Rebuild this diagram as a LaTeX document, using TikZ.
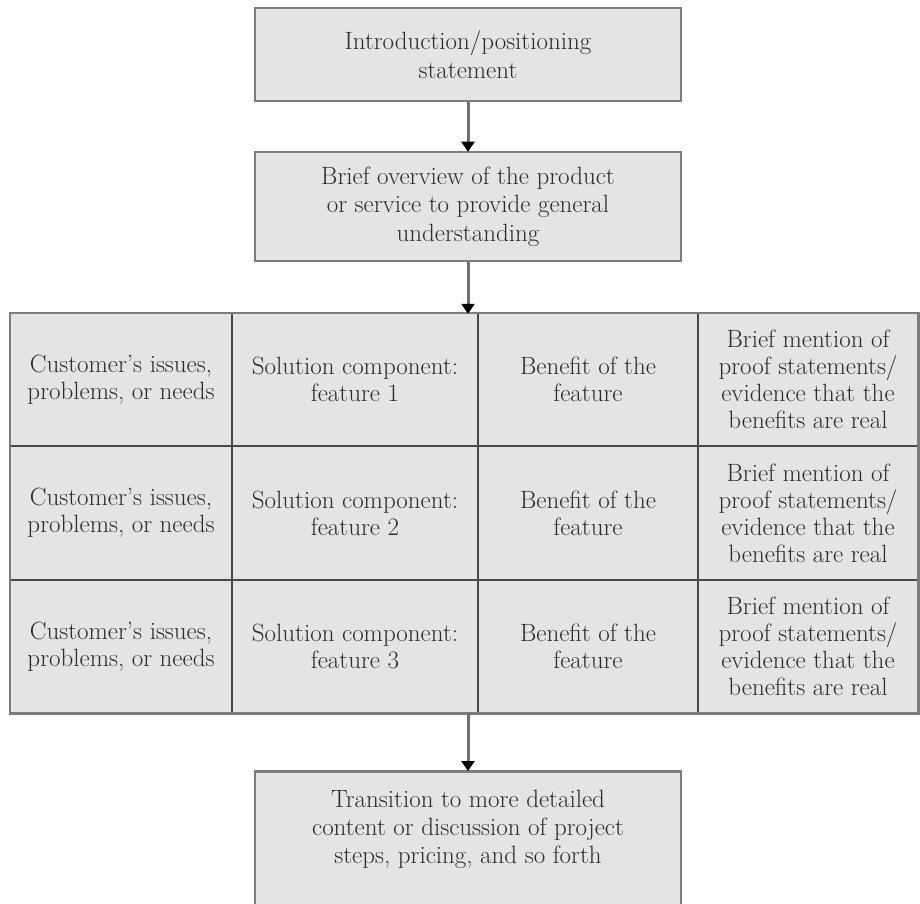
\documentclass[tikz,border=0pt]{standalone}
\usetikzlibrary{arrows.meta}
\definecolor{boxfill}{HTML}{E4E4E4}
\definecolor{boxline}{HTML}{7C7C7C}
\definecolor{gridline}{HTML}{484848}
\definecolor{txt}{HTML}{2C2C2C}
\definecolor{arrline}{HTML}{6E6E6E}
\tikzset{
  flowbox/.style={draw=boxline, line width=2.6pt, fill=boxfill, minimum width=426pt, align=center, inner sep=0pt, text=txt, font=\fontsize{25}{28.5}\selectfont},
  cellbox/.style={fill=boxfill, inner sep=0pt, align=center, text=txt, font=\fontsize{25}{27}\selectfont},
  gridstyle/.style={draw=gridline, line width=1.8pt},
  framestyle/.style={draw=boxline, line width=2.6pt},
  flowarrow/.style={draw=arrline, line width=3pt, -{Triangle[black, width=13pt, length=10pt]}, shorten >=-1pt}
}
\begin{document}
\begin{tikzpicture}[x=1pt,y=-1pt]
\useasboundingbox (0,0) rectangle (920,903);
\clip (0,0) rectangle (920,903);
\fill[white] (0,0) rectangle (920,903);

\node[flowbox, minimum height=93pt] (b1) at (468,54.5) {Introduction/positioning\\statement};
\node[flowbox, minimum height=109pt] (b2) at (468,206.5) {Brief overview of the product\\or service to provide general\\understanding};

% table cells
\foreach \r/\cy/\h in {1/379.5/133, 2/513/134, 3/646.5/133}{
  \node[cellbox, minimum width=222pt, minimum height=\h pt] (c\r1) at (121,\cy) {Customer's issues,\\problems, or needs};
  \node[cellbox, minimum width=246pt, minimum height=\h pt] (c\r2) at (355,\cy) {Solution component:\\feature \r};
  \node[cellbox, minimum width=220pt, minimum height=\h pt] (c\r3) at (588,\cy) {Benefit of the\\feature};
  \node[cellbox, minimum width=220pt, minimum height=\h pt] (c\r4) at (808,\cy) {Brief mention of\\proof statements/\\evidence that the\\benefits are real};
}
% grid lines
\draw[gridstyle] (c12.north west) -- (c32.south west);
\draw[gridstyle] (c13.north west) -- (c33.south west);
\draw[gridstyle] (c14.north west) -- (c34.south west);
\draw[gridstyle] (c21.north west) -- (c24.north east);
\draw[gridstyle] (c31.north west) -- (c34.north east);
\draw[framestyle] (c11.north west) rectangle (c34.south east);

% bottom box (extends beyond the frame)
\node[flowbox, minimum height=190pt, anchor=north] (b4) at (468,770) {};
\node[text=txt, align=center, font=\fontsize{25}{28}\selectfont, inner sep=0pt] (b4text) at (468,829) {Transition to more detailed\\content or discussion of project\\steps, pricing, and so forth};

% arrows
\draw[flowarrow] (b1.south) -- (b2.north);
\draw[flowarrow] (b2.south) -- (b2.south |- c12.north);
\draw[flowarrow] (b2.south |- c32.south) -- (b4.north);
\end{tikzpicture}
\end{document}
